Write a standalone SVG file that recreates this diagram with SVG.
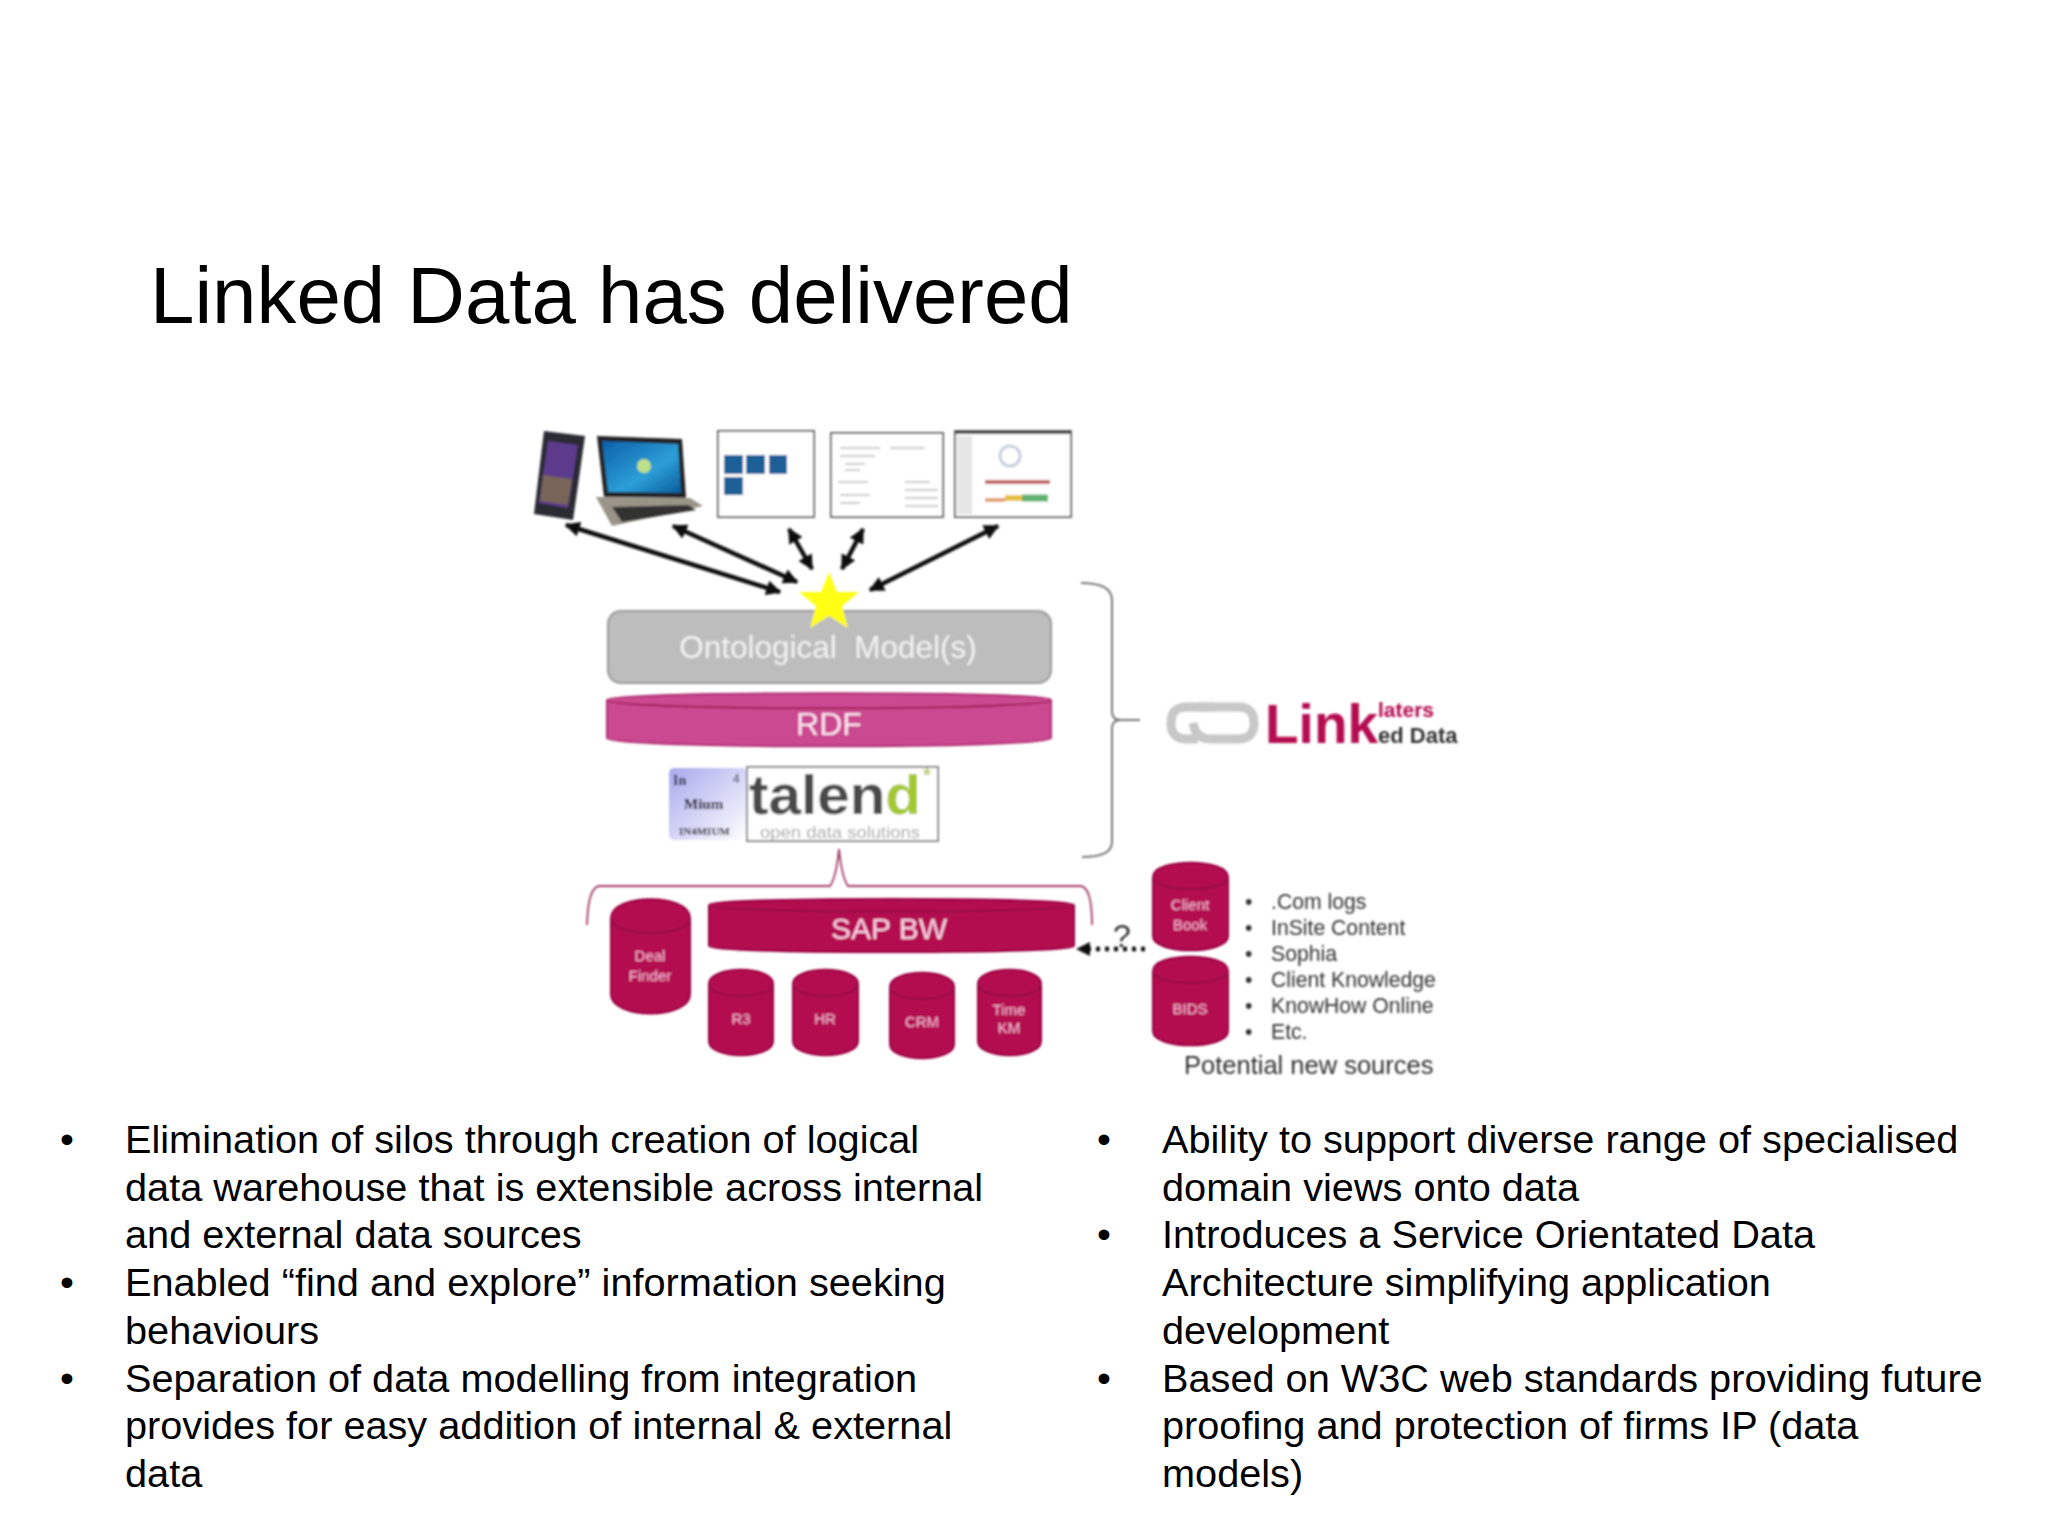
<svg xmlns="http://www.w3.org/2000/svg" width="2048" height="1536" viewBox="0 0 2048 1536">
<style>
text{font-family:"Liberation Sans",Arial,sans-serif}
.body{font-size:39.7px;fill:#000}
.cyl{fill:#b3084f;stroke:#99003f;stroke-width:2}
.cyltop{fill:none;stroke:#8f0a45;stroke-width:1.5}
.cl{fill:#f7b7d6;font-size:15px;text-anchor:middle}
.src{font-size:21.2px;fill:#333}
.brace{fill:none;stroke:#777;stroke-width:2}
.conn{stroke:#111;stroke-width:4.5;fill:none;marker-start:url(#ah);marker-end:url(#ah)}
.shot{fill:#fff;stroke:#666;stroke-width:2}
.thin{stroke:#bbb;stroke-width:1.5;fill:none}
</style>
<defs>
<marker id="ah" viewBox="0 0 10 10" refX="9" refY="5" markerWidth="3.4" markerHeight="3.4" orient="auto-start-reverse"><path d="M0 0L10 5L0 10Z" fill="#111"/></marker>
<linearGradient id="inm" x1="0" x2="1" y1="0" y2="1"><stop offset="0" stop-color="#a9a9ee"/><stop offset="1" stop-color="#fff"/></linearGradient>
<linearGradient id="scr" x1="0" x2="1" y1="0" y2="1"><stop offset="0" stop-color="#0b5fa8"/><stop offset=".6" stop-color="#2d9fd8"/><stop offset="1" stop-color="#0a5c9c"/></linearGradient>
<filter id="soft" filterUnits="userSpaceOnUse" x="500" y="400" width="1000" height="700"><feGaussianBlur stdDeviation="0.9"/></filter>
</defs>
<rect width="2048" height="1536" fill="#fff"/>
<g id="title"><text x="150" y="323" font-size="79.8" fill="#000">Linked Data has delivered</text></g>
<g id="diagram" filter="url(#soft)">
<g id="phone">
<path d="M544 431L585 436L573 520L534 514Z" fill="#2a2a33"/>
<path d="M548 441L578 445L568 508L539 503Z" fill="#5b3b8c"/>
<path d="M543 475L572 479L568 505L540 501Z" fill="#77655a"/>
</g>
<g id="laptop">
<path d="M597 436L682 439L686 498L604 497Z" fill="#222"/>
<path d="M602 441L678 444L681 493L608 492Z" fill="url(#scr)"/>
<circle cx="644" cy="466" r="7" fill="#bfe08a"/>
<path d="M596 497L690 498L703 506L612 526Z" fill="#9a9488"/>
<path d="M612 507L688 505L696 510L622 522Z" fill="#333"/>
</g>
<g id="screen-1">
<rect class="shot" x="718" y="431" width="96" height="86"/>
<rect x="724" y="455" width="19" height="19" fill="#1f5f97"/><rect x="746" y="455" width="19" height="19" fill="#1f5f97"/><rect x="769" y="455" width="18" height="19" fill="#1f5f97"/><rect x="724" y="477" width="19" height="18" fill="#1f5f97"/>
</g>
<g id="screen-2">
<rect class="shot" x="831" y="433" width="112" height="84"/>
<path class="thin" d="M840 448H880M840 456H875M845 464H865M845 470H860M890 448H925M838 482H868M905 482H930M840 495H870M840 503H860M905 490H938M905 498H938M905 506H938"/>
</g>
<g id="screen-3">
<rect class="shot" x="955" y="431" width="116" height="86"/>
<rect x="955" y="431" width="116" height="3" fill="#444"/>
<rect x="957" y="436" width="15" height="78" fill="#e6e6e6"/>
<circle cx="1010" cy="456" r="10" fill="none" stroke="#c8cfe0" stroke-width="3"/>
<path d="M985 482H1050" stroke="#c06060" stroke-width="4"/>
<path d="M985 500H1005" stroke="#e0a070" stroke-width="4"/><path d="M1005 498H1022" stroke="#e8c040" stroke-width="6"/><path d="M1022 498H1048" stroke="#60b070" stroke-width="7"/>
</g>

<g id="connectors">
<line class="conn" x1="566" y1="525" x2="780" y2="592"/>
<line class="conn" x1="673" y1="526" x2="797" y2="582"/>
<line class="conn" x1="789" y1="529" x2="812" y2="569"/>
<line class="conn" x1="863" y1="529" x2="842" y2="569"/>
<line class="conn" x1="998" y1="526" x2="870" y2="590"/>
<path d="M1145 949H1086" stroke="#111" stroke-width="4.5" stroke-dasharray="4 5" fill="none"/>
<path d="M1090 942L1076 949L1090 956Z" fill="#111"/>
<path class="brace" d="M1081 583Q1112 583 1112 600V712Q1112 720 1121 720H1140M1121 720Q1112 720 1112 728V842Q1112 857 1082 857"/>
<path d="M839 849Q842 878 848 886H1080Q1092 886 1092 925M839 849Q836 878 830 886H600Q588 886 587 925" fill="none" stroke="#a33a64" stroke-width="1.8"/>
</g>

<g id="ontological-model">
<rect x="608" y="611" width="443" height="72" rx="13" fill="#bdbdbd" stroke="#999" stroke-width="2"/>
<text x="828" y="658" font-size="31.5" fill="#f2f2f2" text-anchor="middle" xml:space="preserve">Ontological  Model(s)</text>
</g>
<g id="star"><polygon points="829,572 837,592 859,592 842,606 848,628 829,616 810,628 816,606 799,592 821,592" fill="#ffff19"/></g>
<g id="rdf">
<path d="M607 700C607 691 1051 691 1051 700V738C1051 749 607 749 607 738Z" fill="#cb4a90" stroke="#b02f74" stroke-width="2"/>
<path d="M607 700C607 711 1051 711 1051 700" class="cyltop" stroke="#a5316f"/>
<text x="829" y="735" font-size="32" fill="#fbe3f0" text-anchor="middle">RDF</text>
</g>
<g id="inmium">
<rect x="669" y="768" width="78" height="72" rx="5" fill="url(#inm)"/>
<text x="673" y="785" font-size="14" fill="#223" style="font-family:'Liberation Serif',serif" font-weight="700">In</text>
<text x="733" y="783" font-size="12" fill="#333">4</text>
<text x="684" y="809" font-size="15" fill="#112" style="font-family:'Liberation Serif',serif" font-weight="700">Mium</text>
<text x="679" y="835" font-size="11" fill="#223" style="font-family:'Liberation Serif',serif" font-weight="700">IN4MIUM</text>
</g>
<g id="talend">
<rect x="747" y="767" width="191" height="74" fill="#fff" stroke="#888" stroke-width="2"/>
<text x="749" y="814" font-size="56" font-weight="700" fill="#4a4a4a" textLength="172" lengthAdjust="spacingAndGlyphs">talen<tspan fill="#a4c832">d</tspan></text>
<text x="923" y="782" font-size="20" font-weight="700" fill="#b8d060">*</text>
<text x="760" y="838" font-size="17" fill="#a8a8a8" textLength="160" lengthAdjust="spacingAndGlyphs">open data solutions</text>
</g>
<g id="sap-bw">
<path d="M709 905C709 897 1074 897 1074 905V946C1074 954 709 954 709 946Z" class="cyl"/>
<path d="M709 905C709 914 1074 914 1074 905" class="cyltop"/>
<text x="889" y="939" font-size="30" fill="#fbd3e6" text-anchor="middle">SAP BW</text>
</g>
<g id="deal-finder">
<path d="M611 918C611 893 690 893 690 918V994C690 1020 611 1020 611 994Z" class="cyl"/>
<path d="M611 918C611 938 690 938 690 918" class="cyltop"/>
<text class="cl" x="650" y="961">Deal</text><text class="cl" x="650" y="981">Finder</text>
</g>
<g id="r3">
<path d="M709 984C709 965 773 965 773 984V1041C773 1060 709 1060 709 1041Z" class="cyl"/>
<path d="M709 984C709 1000 773 1000 773 984" class="cyltop"/>
<text class="cl" x="741" y="1024">R3</text>
</g>
<g id="hr">
<path d="M793 984C793 965 858 965 858 984V1041C858 1060 793 1060 793 1041Z" class="cyl"/>
<path d="M793 984C793 1000 858 1000 858 984" class="cyltop"/>
<text class="cl" x="825" y="1024">HR</text>
</g>
<g id="crm">
<path d="M890 987C890 968 954 968 954 987V1044C954 1063 890 1063 890 1044Z" class="cyl"/>
<path d="M890 987C890 1003 954 1003 954 987" class="cyltop"/>
<text class="cl" x="922" y="1027">CRM</text>
</g>
<g id="time-km">
<path d="M978 984C978 965 1041 965 1041 984V1041C1041 1060 978 1060 978 1041Z" class="cyl"/>
<path d="M978 984C978 1000 1041 1000 1041 984" class="cyltop"/>
<text class="cl" x="1009" y="1015">Time</text><text class="cl" x="1009" y="1033">KM</text>
</g>
<g id="question"><text x="1122" y="947" font-size="32" fill="#333" text-anchor="middle">?</text></g>
<g id="client-book">
<path d="M1153 877C1153 858 1228 858 1228 877V936C1228 955 1153 955 1153 936Z" class="cyl"/>
<path d="M1153 877C1153 893 1228 893 1228 877" class="cyltop"/>
<text class="cl" x="1190" y="910">Client</text><text class="cl" x="1190" y="930">Book</text>
</g>
<g id="bids">
<path d="M1153 971C1153 952 1228 952 1228 971V1031C1228 1050 1153 1050 1153 1031Z" class="cyl"/>
<path d="M1153 971C1153 987 1228 987 1228 971" class="cyltop"/>
<text class="cl" x="1190" y="1014">BIDS</text>
</g>
<g id="linked-data-logo">
<path d="M1214 707H1187Q1171 707 1171 723T1187 739H1198" fill="none" stroke="#c8c8c8" stroke-width="9"/>
<path d="M1198 707H1238Q1254 707 1254 723T1238 739H1210Q1196 739 1193 723" fill="none" stroke="#c8c8c8" stroke-width="9"/>
<text x="1265" y="743" font-size="55" font-weight="700" fill="#b3084f">Link</text>
<text x="1378" y="717" font-size="21" font-weight="700" fill="#b3084f">laters</text>
<text x="1378" y="743" font-size="22" font-weight="700" fill="#333">ed Data</text>
</g>
<g id="new-sources">
<text class="src" x="1245" y="909">•</text><text class="src" x="1271" y="909">.Com logs</text>
<text class="src" x="1245" y="935">•</text><text class="src" x="1271" y="935">InSite Content</text>
<text class="src" x="1245" y="961">•</text><text class="src" x="1271" y="961">Sophia</text>
<text class="src" x="1245" y="987">•</text><text class="src" x="1271" y="987">Client Knowledge</text>
<text class="src" x="1245" y="1013">•</text><text class="src" x="1271" y="1013">KnowHow Online</text>
<text class="src" x="1245" y="1039">•</text><text class="src" x="1271" y="1039">Etc.</text>
<text x="1184" y="1074" font-size="25.5" fill="#333">Potential new sources</text>
</g>
</g>
<g id="left-bullets">
<text class="body" x="60" y="1153">•</text><text class="body" x="125" y="1153">Elimination of silos through creation of logical</text>
<text class="body" x="125" y="1201">data warehouse that is extensible across internal</text>
<text class="body" x="125" y="1248">and external data sources</text>
<text class="body" x="60" y="1296">•</text><text class="body" x="125" y="1296">Enabled “find and explore” information seeking</text>
<text class="body" x="125" y="1344">behaviours</text>
<text class="body" x="60" y="1392">•</text><text class="body" x="125" y="1392">Separation of data modelling from integration</text>
<text class="body" x="125" y="1439">provides for easy addition of internal &amp; external</text>
<text class="body" x="125" y="1487">data</text>
</g>
<g id="right-bullets">
<text class="body" x="1097" y="1153">•</text><text class="body" x="1162" y="1153">Ability to support diverse range of specialised</text>
<text class="body" x="1162" y="1201">domain views onto data</text>
<text class="body" x="1097" y="1248">•</text><text class="body" x="1162" y="1248">Introduces a Service Orientated Data</text>
<text class="body" x="1162" y="1296">Architecture simplifying application</text>
<text class="body" x="1162" y="1344">development</text>
<text class="body" x="1097" y="1392">•</text><text class="body" x="1162" y="1392">Based on W3C web standards providing future</text>
<text class="body" x="1162" y="1439">proofing and protection of firms IP (data</text>
<text class="body" x="1162" y="1487">models)</text>
</g>
</svg>
